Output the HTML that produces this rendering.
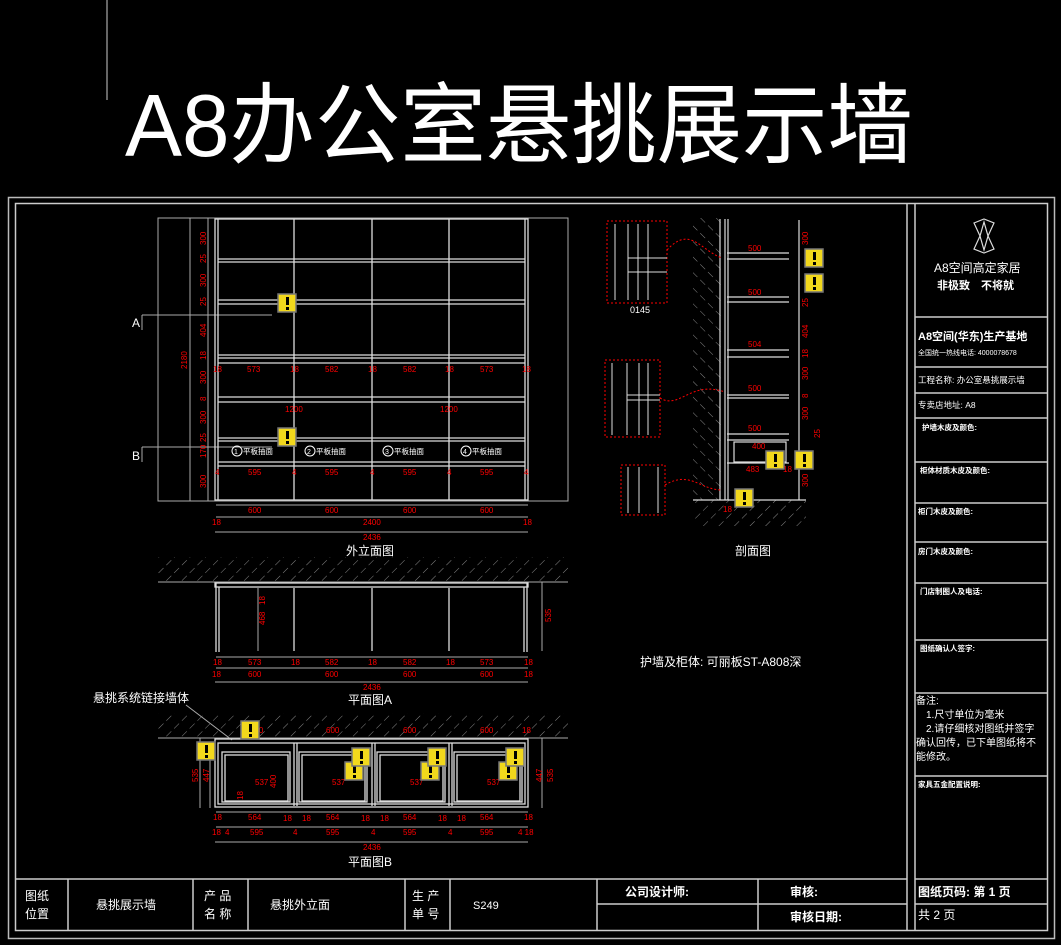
<!DOCTYPE html>
<html><head><meta charset="utf-8"><style>
html,body{margin:0;padding:0;background:#000;}
svg{display:block;}
text{font-family:"Liberation Sans","Noto Sans CJK SC",sans-serif;}
.w{fill:#fff}
.r{fill:#f00;font-size:8px}
</style></head><body>
<svg width="1061" height="945" viewBox="0 0 1061 945" xmlns="http://www.w3.org/2000/svg">
<defs>
<pattern id="h" width="11" height="11" patternUnits="userSpaceOnUse" patternTransform="rotate(45)">
<line x1="0" y1="0" x2="0" y2="11" stroke="#888" stroke-width="1" stroke-dasharray="7 4"/>
</pattern>
<pattern id="h2" width="11" height="11" patternUnits="userSpaceOnUse" patternTransform="rotate(-45)">
<line x1="0" y1="0" x2="0" y2="11" stroke="#888" stroke-width="1" stroke-dasharray="7 4"/>
</pattern>
<g id="warn"><rect x="0" y="0" width="18" height="18" fill="#f2d81c" stroke="#777" stroke-width="1.5"/><rect x="8" y="3" width="3" height="8" fill="#000"/><rect x="8" y="13" width="3" height="3" fill="#000"/></g>
</defs>
<rect width="1061" height="945" fill="#000"/>
<line x1="107" y1="0" x2="107" y2="100" stroke="#ccc" stroke-width="1"/>
<text x="125" y="156" class="w" font-size="88" textLength="788" lengthAdjust="spacingAndGlyphs">A8办公室悬挑展示墙</text>

<!-- frames -->
<rect x="8.5" y="197.5" width="1046" height="741" fill="none" stroke="#bbb" stroke-width="1.5"/>
<rect x="15.5" y="203.5" width="1032" height="727" fill="none" stroke="#ccc" stroke-width="1.5"/>
<g stroke="#ccc" stroke-width="1.5" fill="none">
<line x1="907" y1="203" x2="907" y2="930"/>
<line x1="915" y1="203" x2="915" y2="930"/>
<line x1="15" y1="879" x2="907" y2="879"/>
<line x1="915" y1="879" x2="1047" y2="879"/>
<line x1="68" y1="879" x2="68" y2="930"/>
<line x1="193" y1="879" x2="193" y2="930"/>
<line x1="248" y1="879" x2="248" y2="930"/>
<line x1="405" y1="879" x2="405" y2="930"/>
<line x1="450" y1="879" x2="450" y2="930"/>
<line x1="597" y1="879" x2="597" y2="930"/>
<line x1="758" y1="879" x2="758" y2="930"/>
<line x1="597" y1="904" x2="907" y2="904"/>
<line x1="915" y1="904" x2="1047" y2="904"/>
<line x1="915" y1="317" x2="1047" y2="317"/>
<line x1="915" y1="367" x2="1047" y2="367"/>
<line x1="915" y1="393" x2="1047" y2="393"/>
<line x1="915" y1="418" x2="1047" y2="418"/>
<line x1="915" y1="462" x2="1047" y2="462"/>
<line x1="915" y1="503" x2="1047" y2="503"/>
<line x1="915" y1="542" x2="1047" y2="542"/>
<line x1="915" y1="583" x2="1047" y2="583"/>
<line x1="915" y1="640" x2="1047" y2="640"/>
<line x1="915" y1="693" x2="1047" y2="693"/>
<line x1="915" y1="776" x2="1047" y2="776"/>
</g>
<g stroke="#ddd" stroke-width="1.2" fill="none">
<path d="M974 223 L984 219 L994 223 L988 236 L994 249 L984 253 L974 249 L980 236 Z"/>
<path d="M980 236 L984 222 L988 236 L984 250 Z"/>
</g>
<text x="934" y="272" class="w" font-size="12">A8空间高定家居</text>
<text x="937" y="289" class="w" font-size="11" font-weight="bold">非极致　不将就</text>
<text x="918" y="340" class="w" font-size="11" font-weight="bold">A8空间(华东)生产基地</text>
<text x="918" y="355" class="w" font-size="7">全国统一热线电话: 4000078678</text>
<text x="918" y="383" class="w" font-size="8.5">工程名称: 办公室悬挑展示墙</text>
<text x="918" y="408" class="w" font-size="8.5">专卖店地址: A8</text>
<text x="922" y="430" class="w" font-size="7.5" font-weight="bold">护墙木皮及颜色:</text>
<text x="920" y="473" class="w" font-size="7.5" font-weight="bold">柜体材质木皮及颜色:</text>
<text x="918" y="514" class="w" font-size="7.5" font-weight="bold">柜门木皮及颜色:</text>
<text x="918" y="554" class="w" font-size="7.5" font-weight="bold">房门木皮及颜色:</text>
<text x="920" y="594" class="w" font-size="7.5" font-weight="bold">门店制图人及电话:</text>
<text x="920" y="651" class="w" font-size="7.5" font-weight="bold">图纸确认人签字:</text>
<text x="916" y="704" class="w" font-size="10">备注:</text>
<text x="926" y="718" class="w" font-size="10">1.尺寸单位为毫米</text>
<text x="926" y="732" class="w" font-size="10">2.请仔细核对图纸并签字</text>
<text x="916" y="746" class="w" font-size="10">确认回传，已下单图纸将不</text>
<text x="916" y="760" class="w" font-size="10">能修改。</text>
<text x="918" y="787" class="w" font-size="7.5" font-weight="bold">家具五金配置说明:</text>
<text x="25" y="900" class="w" font-size="12">图纸</text>
<text x="25" y="918" class="w" font-size="12">位置</text>
<text x="96" y="909" class="w" font-size="12">悬挑展示墙</text>
<text x="204" y="900" class="w" font-size="12">产 品</text>
<text x="204" y="918" class="w" font-size="12">名 称</text>
<text x="270" y="909" class="w" font-size="12">悬挑外立面</text>
<text x="412" y="900" class="w" font-size="12">生 产</text>
<text x="412" y="918" class="w" font-size="12">单 号</text>
<text x="473" y="909" class="w" font-size="11">S249</text>
<text x="625" y="896" class="w" font-size="12" font-weight="bold">公司设计师:</text>
<text x="790" y="896" class="w" font-size="12" font-weight="bold">审核:</text>
<text x="790" y="921" class="w" font-size="12" font-weight="bold">审核日期:</text>
<text x="918" y="896" class="w" font-size="12" font-weight="bold">图纸页码: 第 1 页</text>
<text x="918" y="919" class="w" font-size="12">共  2  页</text>

<!-- ELEVATION -->
<g stroke="#aaa" stroke-width="1" fill="none">
<rect x="158" y="218" width="410" height="283"/>
<line x1="190" y1="218" x2="190" y2="501"/>
<line x1="208" y1="218" x2="208" y2="501"/>
<line x1="142" y1="315" x2="272" y2="315"/>
<line x1="142" y1="315" x2="142" y2="330"/>
<line x1="142" y1="447" x2="272" y2="447"/>
<line x1="142" y1="447" x2="142" y2="462"/>
</g>
<g stroke="#ddd" stroke-width="1.3" fill="none">
<rect x="215" y="219" width="313" height="281"/>
<line x1="218" y1="219" x2="218" y2="500"/>
<line x1="525" y1="219" x2="525" y2="500"/>
<line x1="294" y1="219" x2="294" y2="500"/>
<line x1="372" y1="219" x2="372" y2="500"/>
<line x1="449" y1="219" x2="449" y2="500"/>
<line x1="218" y1="259" x2="525" y2="259"/><line x1="218" y1="262" x2="525" y2="262"/>
<line x1="218" y1="300" x2="525" y2="300"/><line x1="218" y1="304" x2="525" y2="304"/>
<line x1="218" y1="355" x2="525" y2="355"/><line x1="218" y1="358" x2="525" y2="358"/>
<line x1="218" y1="363" x2="525" y2="363"/>
<line x1="218" y1="397" x2="525" y2="397"/><line x1="218" y1="402" x2="525" y2="402"/>
<line x1="218" y1="438" x2="525" y2="438"/><line x1="218" y1="441" x2="525" y2="441"/>
<line x1="218" y1="462" x2="525" y2="462"/><line x1="218" y1="466" x2="525" y2="466"/>
</g>
<g stroke="#aaa" stroke-width="1"><line x1="216" y1="505" x2="528" y2="505"/><line x1="216" y1="517" x2="528" y2="517"/><line x1="215" y1="532" x2="528" y2="532"/></g>
<text x="132" y="327" class="w" font-size="12" font-family="Liberation Serif">A</text>
<text x="132" y="460" class="w" font-size="12" font-family="Liberation Serif">B</text>
<g class="r">
<text x="213" y="372">18</text><text x="247" y="372">573</text><text x="290" y="372">18</text><text x="325" y="372">582</text><text x="368" y="372">18</text><text x="403" y="372">582</text><text x="445" y="372">18</text><text x="480" y="372">573</text><text x="522" y="372">18</text>
<text x="285" y="412">1200</text><text x="440" y="412">1200</text>
<text x="215" y="475">4</text><text x="248" y="475">595</text><text x="292" y="475">4</text><text x="325" y="475">595</text><text x="370" y="475">4</text><text x="403" y="475">595</text><text x="447" y="475">4</text><text x="480" y="475">595</text><text x="524" y="475">4</text>
<text x="248" y="513">600</text><text x="325" y="513">600</text><text x="403" y="513">600</text><text x="480" y="513">600</text>
<text x="212" y="525">18</text><text x="363" y="525">2400</text><text x="523" y="525">18</text>
<text x="363" y="540">2436</text>
<text transform="translate(187,369) rotate(-90)">2180</text>
<text transform="translate(206,245) rotate(-90)">300</text>
<text transform="translate(206,263) rotate(-90)">25</text>
<text transform="translate(206,287) rotate(-90)">300</text>
<text transform="translate(206,306) rotate(-90)">25</text>
<text transform="translate(206,337) rotate(-90)">404</text>
<text transform="translate(206,360) rotate(-90)">18</text>
<text transform="translate(206,384) rotate(-90)">300</text>
<text transform="translate(206,401) rotate(-90)">8</text>
<text transform="translate(206,424) rotate(-90)">300</text>
<text transform="translate(206,442) rotate(-90)">25</text>
<text transform="translate(206,458) rotate(-90)">170</text>
<text transform="translate(206,488) rotate(-90)">300</text>
</g>
<g class="w" font-size="7.5">
<circle cx="237" cy="451" r="5" fill="none" stroke="#fff"/><text x="234" y="454" font-size="7">1</text><text x="243" y="454">平板抽面</text>
<circle cx="310" cy="451" r="5" fill="none" stroke="#fff"/><text x="307" y="454" font-size="7">2</text><text x="316" y="454">平板抽面</text>
<circle cx="388" cy="451" r="5" fill="none" stroke="#fff"/><text x="385" y="454" font-size="7">3</text><text x="394" y="454">平板抽面</text>
<circle cx="466" cy="451" r="5" fill="none" stroke="#fff"/><text x="463" y="454" font-size="7">4</text><text x="472" y="454">平板抽面</text>
</g>
<text x="346" y="555" class="w" font-size="12">外立面图</text>

<!-- SECTION -->
<rect x="693" y="218" width="28" height="282" fill="url(#h2)"/>
<rect x="693" y="500" width="113" height="26" fill="url(#h)"/>
<g stroke="#ddd" stroke-width="1.2" fill="none">
<line x1="720" y1="219" x2="720" y2="500"/><line x1="725" y1="219" x2="725" y2="500"/><line x1="728" y1="219" x2="728" y2="500"/>
<line x1="693" y1="500" x2="806" y2="500"/>
<line x1="727" y1="253" x2="789" y2="253"/><line x1="727" y1="259" x2="789" y2="259"/>
<line x1="727" y1="297" x2="789" y2="297"/><line x1="727" y1="302" x2="789" y2="302"/>
<line x1="727" y1="350" x2="789" y2="350"/><line x1="727" y1="357" x2="789" y2="357"/>
<line x1="727" y1="395" x2="789" y2="395"/><line x1="727" y1="398" x2="789" y2="398"/>
<line x1="727" y1="434" x2="789" y2="434"/><line x1="727" y1="440" x2="789" y2="440"/>
<rect x="734" y="442" width="52" height="20"/>
<line x1="727" y1="463" x2="789" y2="463"/>
<line x1="799" y1="220" x2="799" y2="500"/>
</g>
<g fill="none" stroke="#f00" stroke-width="1" stroke-dasharray="2 2">
<rect x="607" y="221" width="60" height="82"/>
<rect x="605" y="360" width="55" height="77"/>
<rect x="621" y="465" width="44" height="50"/>
<path d="M667 250 C690 225 700 250 722 258"/>
<path d="M660 398 C680 410 690 380 725 392"/>
<path d="M665 485 C690 470 700 490 722 490"/>
</g>
<g stroke="#ddd" stroke-width="1" fill="none">
<line x1="615" y1="224" x2="615" y2="300"/><line x1="628" y1="224" x2="628" y2="300"/><line x1="638" y1="224" x2="638" y2="300"/><line x1="648" y1="224" x2="648" y2="300"/>
<path d="M628 258 L667 258 M628 272 L667 272"/>
<line x1="612" y1="363" x2="612" y2="435"/><line x1="627" y1="363" x2="627" y2="435"/><line x1="639" y1="363" x2="639" y2="435"/><line x1="648" y1="363" x2="648" y2="435"/>
<path d="M627 395 L660 395 M627 400 L660 400"/>
<line x1="628" y1="467" x2="628" y2="513"/><line x1="639" y1="467" x2="639" y2="513"/><line x1="658" y1="467" x2="658" y2="513"/>
</g>
<text x="630" y="313" class="w" font-size="9">0145</text>
<g class="r">
<text x="748" y="251">500</text><text x="748" y="295">500</text><text x="748" y="347">504</text><text x="748" y="391">500</text><text x="748" y="431">500</text>
<text x="752" y="449">400</text><text x="746" y="472">483</text><text x="783" y="472">18</text><text x="723" y="512">18</text>
<text transform="translate(808,245) rotate(-90)">300</text>
<text transform="translate(808,307) rotate(-90)">25</text>
<text transform="translate(808,338) rotate(-90)">404</text>
<text transform="translate(808,358) rotate(-90)">18</text>
<text transform="translate(808,380) rotate(-90)">300</text>
<text transform="translate(808,398) rotate(-90)">8</text>
<text transform="translate(808,420) rotate(-90)">300</text>
<text transform="translate(820,438) rotate(-90)">25</text>
<text transform="translate(808,487) rotate(-90)">300</text>
</g>
<text x="735" y="555" class="w" font-size="12">剖面图</text>

<!-- PLAN A -->
<rect x="158" y="557" width="410" height="25" fill="url(#h)"/>
<line x1="158" y1="582" x2="568" y2="582" stroke="#aaa"/>
<g stroke="#ddd" stroke-width="1.3" fill="none">
<rect x="215" y="583" width="313" height="4"/>
<line x1="216" y1="583" x2="216" y2="652"/><line x1="219" y1="587" x2="219" y2="652"/>
<line x1="524" y1="587" x2="524" y2="652"/><line x1="527" y1="583" x2="527" y2="652"/>
<line x1="294" y1="588" x2="294" y2="651"/><line x1="372" y1="588" x2="372" y2="651"/><line x1="449" y1="588" x2="449" y2="651"/>
</g>
<g stroke="#aaa" stroke-width="1"><line x1="216" y1="657" x2="528" y2="657"/><line x1="216" y1="668" x2="528" y2="668"/><line x1="215" y1="682" x2="528" y2="682"/><line x1="542" y1="582" x2="542" y2="651"/><line x1="258" y1="588" x2="258" y2="651"/></g>
<g class="r">
<text x="213" y="665">18</text><text x="248" y="665">573</text><text x="291" y="665">18</text><text x="325" y="665">582</text><text x="368" y="665">18</text><text x="403" y="665">582</text><text x="446" y="665">18</text><text x="480" y="665">573</text><text x="524" y="665">18</text>
<text x="212" y="677">18</text><text x="248" y="677">600</text><text x="325" y="677">600</text><text x="403" y="677">600</text><text x="480" y="677">600</text><text x="524" y="677">18</text>
<text x="363" y="690">2436</text>
<text transform="translate(265,625) rotate(-90)">468</text>
<text transform="translate(265,605) rotate(-90)">18</text>
<text transform="translate(551,622) rotate(-90)">535</text>
</g>
<text x="348" y="704" class="w" font-size="12">平面图A</text>
<text x="640" y="666" class="w" font-size="12">护墙及柜体: 可丽板ST-A808深</text>

<!-- PLAN B -->
<text x="93" y="702" class="w" font-size="12">悬挑系统链接墙体</text>
<line x1="186" y1="705" x2="232" y2="740" stroke="#aaa"/>
<rect x="158" y="713" width="410" height="25" fill="url(#h)"/>
<line x1="158" y1="738" x2="568" y2="738" stroke="#aaa"/>
<g stroke="#ddd" stroke-width="1.3" fill="none">
<rect x="215" y="739" width="313" height="68"/>
<rect x="218" y="743" width="307" height="61"/>
<rect x="222" y="752" width="68" height="50"/><rect x="225" y="755" width="63" height="46"/>
<rect x="299" y="752" width="68" height="50"/><rect x="302" y="755" width="63" height="46"/>
<rect x="377" y="752" width="68" height="50"/><rect x="380" y="755" width="63" height="46"/>
<rect x="454" y="752" width="68" height="50"/><rect x="457" y="755" width="63" height="46"/>
<line x1="294" y1="743" x2="294" y2="806"/><line x1="297" y1="743" x2="297" y2="806"/>
<line x1="372" y1="743" x2="372" y2="806"/><line x1="375" y1="743" x2="375" y2="806"/>
<line x1="449" y1="743" x2="449" y2="806"/><line x1="452" y1="743" x2="452" y2="806"/>
</g>
<g stroke="#aaa" stroke-width="1"><line x1="216" y1="812" x2="528" y2="812"/><line x1="216" y1="827" x2="528" y2="827"/><line x1="215" y1="842" x2="528" y2="842"/><line x1="200" y1="738" x2="200" y2="808"/><line x1="210" y1="745" x2="210" y2="808"/><line x1="542" y1="738" x2="542" y2="808"/></g>
<g class="r">
<text x="250" y="733">600</text><text x="326" y="733">600</text><text x="403" y="733">600</text><text x="480" y="733">600</text><text x="522" y="733">18</text>
<text x="255" y="785">537</text><text x="332" y="785">537</text><text x="410" y="785">537</text><text x="487" y="785">537</text>
<text transform="translate(198,782) rotate(-90)">535</text>
<text transform="translate(209,782) rotate(-90)">447</text>
<text transform="translate(542,782) rotate(-90)">447</text>
<text transform="translate(553,782) rotate(-90)">535</text>
<text transform="translate(276,788) rotate(-90)">400</text>
<text transform="translate(243,800) rotate(-90)">18</text>
<text x="213" y="820">18</text><text x="248" y="820">564</text><text x="283" y="821">18</text><text x="302" y="821">18</text><text x="326" y="820">564</text><text x="361" y="821">18</text><text x="380" y="821">18</text><text x="403" y="820">564</text><text x="438" y="821">18</text><text x="457" y="821">18</text><text x="480" y="820">564</text><text x="524" y="820">18</text>
<text x="212" y="835">18</text><text x="225" y="835">4</text><text x="250" y="835">595</text><text x="293" y="835">4</text><text x="326" y="835">595</text><text x="371" y="835">4</text><text x="403" y="835">595</text><text x="448" y="835">4</text><text x="480" y="835">595</text><text x="518" y="835">4 18</text>
<text x="363" y="850">2436</text>
</g>
<text x="348" y="866" class="w" font-size="12">平面图B</text>

<use href="#warn" x="278" y="294"/>
<use href="#warn" x="278" y="428"/>
<use href="#warn" x="805" y="249"/>
<use href="#warn" x="805" y="274"/>
<use href="#warn" x="766" y="451"/>
<use href="#warn" x="795" y="451"/>
<use href="#warn" x="735" y="489"/>
<use href="#warn" x="241" y="721"/>
<use href="#warn" x="197" y="742"/>
<use href="#warn" x="345" y="762"/>
<use href="#warn" x="352" y="748"/>
<use href="#warn" x="421" y="762"/>
<use href="#warn" x="428" y="748"/>
<use href="#warn" x="499" y="762"/>
<use href="#warn" x="506" y="748"/>
</svg>
</body></html>
